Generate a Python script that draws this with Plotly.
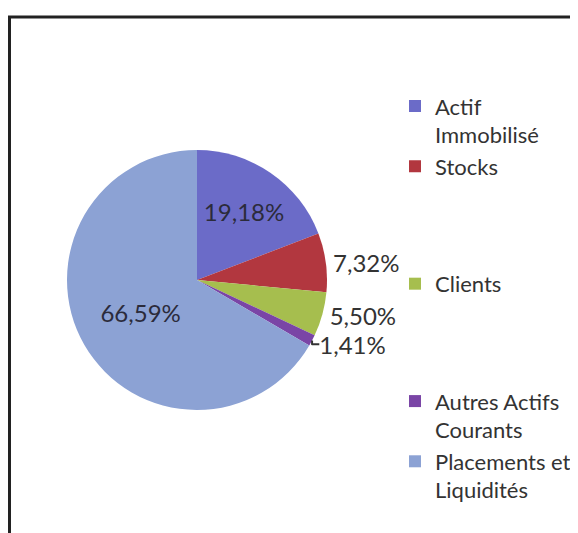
import plotly.graph_objects as go

BLANK = "<br>\u00a0" * 3

labels = [
    "Actif<br>Immobilisé",
    "Stocks" + BLANK,
    "Clients" + BLANK,
    "Autres Actifs<br>Courants",
    "Placements et<br>Liquidités",
]
values = [19.18, 7.32, 5.50, 1.41, 66.59]
colors = ["#6B6BC8", "#B2373F", "#A6BE4E", "#7A45A6", "#8CA2D4"]
text_pos = ["inside", "outside", "outside", "outside", "inside"]

FONT = "Lato, Roboto, sans-serif"

# pie centred around (189, 272) px on the paper, radius ~130 px
fig = go.Figure(go.Pie(
    labels=labels,
    values=values,
    sort=False,
    direction="clockwise",
    rotation=0,
    marker=dict(colors=colors, line=dict(width=0)),
    texttemplate="%{value:.2f}%",
    textposition=text_pos,
    insidetextorientation="horizontal",
    textfont=dict(family=FONT, size=24, color="#2b2b3b"),
    outsidetextfont=dict(family=FONT, size=24, color="#333333"),
    hoverinfo="label+percent",
    domain=dict(x=[59 / 578, 319 / 578], y=[131 / 533, 391 / 533]),
))

fig.update_layout(
    width=578, height=533,
    margin=dict(t=0, b=0, l=0, r=0, autoexpand=False),
    paper_bgcolor="white",
    separators=", ",
    showlegend=True,
    legend=dict(
        x=387 / 578, xanchor="left",
        y=0.855, yanchor="top",
        valign="top",
        font=dict(family=FONT, size=22, color="#333333"),
        bgcolor="rgba(0,0,0,0)",
    ),
    shapes=[dict(
        type="rect", xref="paper", yref="paper",
        x0=1.5 / 578, x1=1.05, y0=-0.05, y1=1 - 9 / 533,
        line=dict(color="#222222", width=3),
    )],
)

fig.write_html("out.html")
